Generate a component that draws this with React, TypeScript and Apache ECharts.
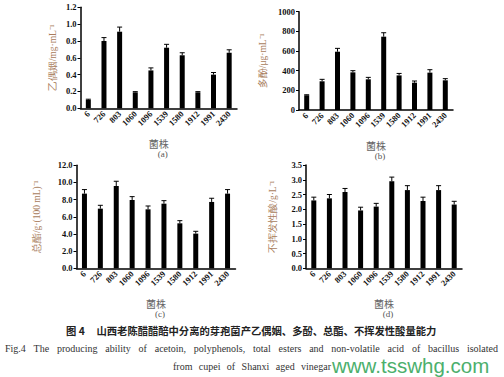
import React, { useEffect, useRef } from "react";
import * as echarts from "echarts";

const strains = ["6", "726", "803", "1060", "1096", "1539", "1580", "1912", "1991", "2430"];

const acetoin = [0.10, 0.80, 0.91, 0.19, 0.45, 0.72, 0.63, 0.19, 0.40, 0.66];
const acetoinErr = [0.008, 0.04, 0.055, 0.008, 0.03, 0.04, 0.03, 0.008, 0.025, 0.035];

const polyphenol = [150, 292, 593, 383, 312, 746, 352, 278, 380, 302];
const polyphenolErr = [5, 20, 34, 17, 20, 40, 20, 17, 30, 17];

const esters = [8.70, 6.95, 9.59, 7.96, 6.87, 7.53, 5.24, 4.04, 7.73, 8.70];
const estersErr = [0.47, 0.39, 0.55, 0.39, 0.39, 0.35, 0.31, 0.27, 0.43, 0.47];

const acids = [2.30, 2.37, 2.585, 1.96, 2.09, 2.95, 2.65, 2.28, 2.65, 2.16];
const acidsErr = [0.11, 0.13, 0.12, 0.11, 0.11, 0.14, 0.15, 0.13, 0.15, 0.11];

const yNames = ["乙偶姻/mg·mL⁻¹", "多酚/μg·mL⁻¹", "总酯/g·(100 mL)⁻¹", "不挥发性酸/g·L⁻¹"];
const yMax = [1.2, 1000, 12, 3.5];
const yInterval = [0.2, 200, 2, 0.5];
const yDecimals = [1, 0, 1, 1];
const panelTags = ["(a)", "(b)", "(c)", "(d)"];
const xTitle = "菌株";

const captionCnLabel = "图 4";
const captionCn = "山西老陈醋醋醅中分离的芽孢菌产乙偶姻、多酚、总酯、不挥发性酸量能力";
const captionEn1 = "Fig.4 The producing ability of acetoin, polyphenols, total esters and non-volatile acid of bacillus isolated";
const captionEn2 = "from cupei of Shanxi aged vinegar";
const watermark = "www.tsswhg.com";

const grids = [
  { left: 80.5, top: 7.3, width: 156.5, height: 101 },
  { left: 299, top: 11.7, width: 154, height: 98.3 },
  { left: 76.5, top: 165.3, width: 159, height: 103 },
  { left: 306, top: 165, width: 156, height: 103.3 },
];
const nameGaps = [23, 31, 35, 28];

const SERIF = "'Liberation Serif', 'Times New Roman', serif";
const CJK = "'Noto Sans CJK SC', sans-serif";

function justify(text: string, font: string, x0: number, x1: number, y: number, fontSize: number, fill: string) {
  const canvas = document.createElement("canvas");
  const ctx = canvas.getContext("2d")!;
  ctx.font = font;
  const words = text.split(" ");
  const widths = words.map((w) => ctx.measureText(w).width);
  const total = widths.reduce((a, b) => a + b, 0);
  const gap = words.length > 1 ? (x1 - x0 - total) / (words.length - 1) : 0;
  let x = x0;
  return words.map((w, i) => {
    const el = {
      type: "text",
      x,
      y,
      style: { text: w, fontSize, fontFamily: SERIF, fill, textVerticalAlign: "middle" },
    };
    x += widths[i] + gap;
    return el;
  });
}

export default function App() {
  const ref = useRef<HTMLDivElement>(null);
  useEffect(() => {
    document.body.style.margin = "0";
    const chart = echarts.init(ref.current!, null, { renderer: "svg" });
    const datasets = [
      [acetoin, acetoinErr],
      [polyphenol, polyphenolErr],
      [esters, estersErr],
      [acids, acidsErr],
    ];

    const xAxis = grids.map((_, i) => ({
      type: "category",
      gridIndex: i,
      data: strains,
      boundaryGap: true,
      axisLine: { lineStyle: { color: "#000", width: 1.5 } },
      axisTick: { show: false },
      axisLabel: {
        rotate: 45,
        margin: 4,
        interval: 0,
        fontSize: 8.5,
        fontWeight: "bold",
        fontFamily: SERIF,
        color: "#111",
      },
      name: xTitle,
      nameLocation: "middle",
      nameGap: 30,
      nameTextStyle: { fontSize: 10, fontFamily: CJK, color: "#666" },
    }));

    const yAxis = grids.map((_, i) => ({
      type: "value",
      gridIndex: i,
      min: 0,
      max: yMax[i],
      interval: yInterval[i],
      splitLine: { show: false },
      axisLine: { show: true, lineStyle: { color: "#000", width: 1.5 } },
      axisTick: { show: true, length: 3, lineStyle: { color: "#000", width: 1 } },
      axisLabel: {
        margin: 4,
        fontSize: 8.5,
        fontWeight: "bold",
        fontFamily: SERIF,
        color: "#111",
        formatter: (v: number) => v.toFixed(yDecimals[i]),
      },
      name: yNames[i],
      nameLocation: "middle",
      nameGap: nameGaps[i],
      nameRotate: 90,
      nameTextStyle: { fontSize: 9.5, fontFamily: SERIF, color: "#a87c5c" },
    }));

    const series: any[] = [];
    datasets.forEach(([vals, errs], i) => {
      series.push({
        type: "bar",
        xAxisIndex: i,
        yAxisIndex: i,
        data: vals,
        barWidth: 5,
        itemStyle: { color: "#000" },
      });
      series.push({
        type: "custom",
        xAxisIndex: i,
        yAxisIndex: i,
        data: vals.map((v, j) => [j, v, errs[j]]),
        encode: { x: 0, y: 1 },
        renderItem: (params: any, api: any) => {
          const idx = api.value(0);
          const v = api.value(1);
          const e = api.value(2);
          const p0 = api.coord([idx, v]);
          const p1 = api.coord([idx, v + e]);
          const hw = 2.5;
          return {
            type: "group",
            children: [
              { type: "line", shape: { x1: p0[0], y1: p0[1], x2: p1[0], y2: p1[1] }, style: { stroke: "#000", lineWidth: 1 } },
              { type: "line", shape: { x1: p1[0] - hw, y1: p1[1], x2: p1[0] + hw, y2: p1[1] }, style: { stroke: "#000", lineWidth: 1 } },
            ],
          };
        },
      });
    });

    const graphic: any[] = [];
    panelTags.forEach((t, i) => {
      const g = grids[i];
      graphic.push({
        type: "text",
        x: g.left + g.width / 2 + 4,
        y: g.top + g.height + 46,
        style: { text: t, fontSize: 9, fontFamily: SERIF, fill: "#555", textAlign: "center", textVerticalAlign: "middle" },
      });
    });
    graphic.push({
      type: "text",
      x: 66,
      y: 330,
      style: { text: captionCnLabel, fontSize: 10.3, fontWeight: "bold", fontFamily: CJK, fill: "#222", textVerticalAlign: "middle" },
    });
    graphic.push({
      type: "text",
      x: 96.5,
      y: 330,
      style: { text: captionCn, fontSize: 10.3, fontWeight: "bold", fontFamily: CJK, fill: "#222", textVerticalAlign: "middle" },
    });
    graphic.push(...justify(captionEn1, `10px ${SERIF}`, 5, 498, 348, 10, "#333"));
    graphic.push(...justify(captionEn2, `10px ${SERIF}`, 173, 331, 366, 10, "#333"));
    graphic.push({
      type: "text",
      x: 332,
      y: 365.5,
      style: { text: watermark, fontSize: 20.5, fontFamily: "'Liberation Sans', Arial, sans-serif", fill: "#4caf6c", textVerticalAlign: "middle" },
    });

    chart.setOption({
      animation: false,
      backgroundColor: "#fff",
      grid: grids.map((g) => ({ ...g, containLabel: false })),
      xAxis,
      yAxis,
      series,
      graphic,
    });
    return () => chart.dispose();
  }, []);
  return <div ref={ref} style={{ width: 504, height: 377 }} />;
}
